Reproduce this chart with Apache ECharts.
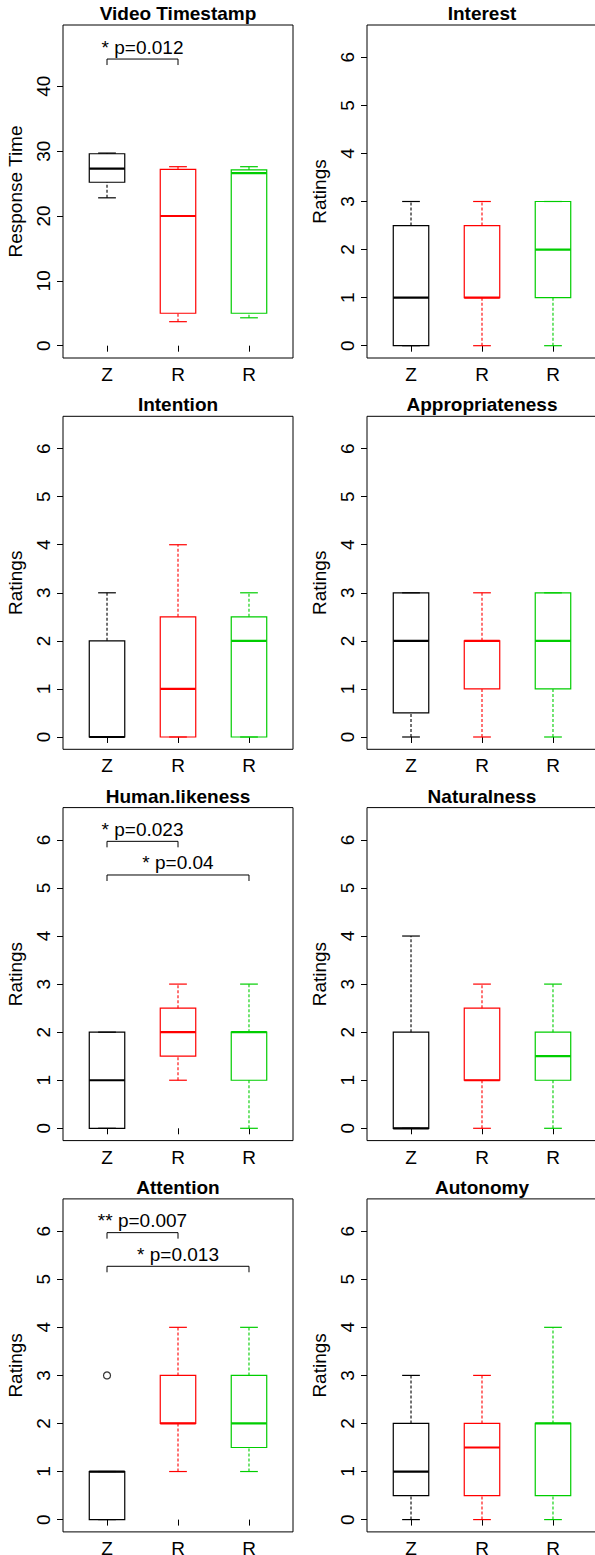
<!DOCTYPE html>
<html>
<head>
<meta charset="utf-8">
<script src="https://cdn.jsdelivr.net/npm/echarts@6/dist/echarts.min.js"></script>
<style>
  html, body { margin: 0; padding: 0; background: #fff; }
  #main { width: 595px; height: 1555px; }
</style>
</head>
<body>
<div id="main"></div>
<script>
// groups on every panel
const categories = ['Z', 'R', 'R']
const groupColors = ['#000000', '#FF0000', '#00CD00']

// five number summaries per group: [min, Q1, median, Q3, max]
const videoTimestamp = [[22.8, 25.2, 27.3, 29.6, 29.7], [3.7, 5.0, 20.0, 27.2, 27.6], [4.3, 5.0, 26.6, 27.1, 27.6]]
const interest = [[0, 0, 1, 2.5, 3], [0, 1, 1, 2.5, 3], [0, 1, 2, 3, 3]]
const intention = [[0, 0, 0, 2, 3], [0, 0, 1, 2.5, 4], [0, 0, 2, 2.5, 3]]
const appropriateness = [[0, 0.5, 2, 3, 3], [0, 1, 2, 2, 3], [0, 1, 2, 3, 3]]
const humanLikeness = [[0, 0, 1, 2, 2], [1, 1.5, 2, 2.5, 3], [0, 1, 2, 2, 3]]
const naturalness = [[0, 0, 0, 2, 4], [0, 1, 1, 2.5, 3], [0, 1, 1.5, 2, 3]]
const attention = [[0, 0, 1, 1, 1], [1, 2, 2, 3, 4], [1, 1.5, 2, 3, 4]]
const autonomy = [[0, 0.5, 1, 2, 3], [0, 0.5, 1.5, 2, 3], [0, 0.5, 2, 2, 4]]

// outliers: [group position, value]
const attentionOutliers = [[1, 3]]

// significance brackets: [from group, to group, height, label]
const videoBrackets = [[1, 2, 44.2, '* p=0.012']]
const humanBrackets = [[1, 2, 5.97, '* p=0.023'], [1, 3, 5.27, '* p=0.04']]
const attentionBrackets = [[1, 2, 5.97, '** p=0.007'], [1, 3, 5.27, '* p=0.013']]

// tick labels
const timeTicks = [0, 10, 20, 30, 40]
const ratingTicks = [0, 1, 2, 3, 4, 5, 6]
const groupTicks = [1, 2, 3]

const panels = [
    { title: 'Video Timestamp', data: videoTimestamp, yName: 'Response Time', ticks: timeTicks, min: -1.9, max: 49.45, brackets: videoBrackets },
    { title: 'Interest', data: interest, yName: 'Ratings', ticks: ratingTicks, min: -0.256, max: 6.672 },
    { title: 'Intention', data: intention, yName: 'Ratings', ticks: ratingTicks, min: -0.256, max: 6.672 },
    { title: 'Appropriateness', data: appropriateness, yName: 'Ratings', ticks: ratingTicks, min: -0.256, max: 6.672 },
    { title: 'Human.likeness', data: humanLikeness, yName: 'Ratings', ticks: ratingTicks, min: -0.256, max: 6.672, brackets: humanBrackets },
    { title: 'Naturalness', data: naturalness, yName: 'Ratings', ticks: ratingTicks, min: -0.256, max: 6.672 },
    { title: 'Attention', data: attention, yName: 'Ratings', ticks: ratingTicks, min: -0.256, max: 6.672, brackets: attentionBrackets, outliers: attentionOutliers },
    { title: 'Autonomy', data: autonomy, yName: 'Ratings', ticks: ratingTicks, min: -0.256, max: 6.672 }
]

const FONT = 'Liberation Sans, Arial, Helvetica, sans-serif'
const FS = 19
const ROW_H = 391.3
const BOX_W = 0.5

let grids = [], xAxes = [], yAxes = [], series = [], graphics = []

function renderBox (params, api) {
    let x = api.value(0)
    let color = groupColors[api.value(6)]
    let half = api.size([BOX_W, 0])[0] / 2
    let cap = half / 2
    let pMin = api.coord([x, api.value(1)])
    let pQ1 = api.coord([x, api.value(2)])
    let pMed = api.coord([x, api.value(3)])
    let pQ3 = api.coord([x, api.value(4)])
    let pMax = api.coord([x, api.value(5)])
    let cx = pMin[0]
    let dashed = { stroke: color, lineWidth: 1.1, lineDash: [3, 2] }
    let solid = { stroke: color, lineWidth: 1.2 }
    return {
        type: 'group',
        children: [
            { type: 'line', shape: { x1: cx, y1: pMin[1], x2: cx, y2: pQ1[1] }, style: dashed },
            { type: 'line', shape: { x1: cx, y1: pQ3[1], x2: cx, y2: pMax[1] }, style: dashed },
            { type: 'line', shape: { x1: cx - cap, y1: pMin[1], x2: cx + cap, y2: pMin[1] }, style: solid },
            { type: 'line', shape: { x1: cx - cap, y1: pMax[1], x2: cx + cap, y2: pMax[1] }, style: solid },
            { type: 'rect', shape: { x: cx - half, y: pQ3[1], width: half * 2, height: pQ1[1] - pQ3[1] }, style: { fill: 'none', stroke: color, lineWidth: 1.2 } },
            { type: 'line', shape: { x1: cx - half, y1: pMed[1], x2: cx + half, y2: pMed[1] }, style: { stroke: color, lineWidth: 2.2 } }
        ]
    }
}

function bracketRenderer (list) {
    return function (params, api) {
        let a = api.coord([api.value(0), api.value(2)])
        let b = api.coord([api.value(1), api.value(2)])
        let drop = 6
        return {
            type: 'group',
            children: [
                { type: 'polyline', shape: { points: [[a[0], a[1] + drop], a, b, [b[0], b[1] + drop]] }, style: { stroke: '#000', lineWidth: 1, fill: 'none' } },
                { type: 'text', x: (a[0] + b[0]) / 2, y: a[1] - 12, style: { text: list[params.dataIndex][3], align: 'center', verticalAlign: 'middle', font: FS + 'px ' + FONT, fill: '#000' } }
            ]
        }
    }
}

panels.forEach((p, i) => {
    let col = i % 2, row = Math.floor(i / 2)
    let left = col === 0 ? 63 : 367
    let top = 25 + ROW_H * row
    grids.push({ left: left, top: top, width: 230, height: 333, show: true, borderColor: '#000', borderWidth: 1, backgroundColor: 'transparent', containLabel: false, outerBoundsMode: 'none' })
    xAxes.push({
        type: 'value', gridIndex: i, min: 0.38, max: 3.62,
        axisLine: { show: false }, splitLine: { show: false },
        axisTick: { show: true, length: 6, customValues: groupTicks, lineStyle: { color: '#000', width: 1 } },
        axisLabel: { customValues: groupTicks, formatter: v => categories[Math.round(v) - 1], margin: 7, fontSize: FS, fontFamily: FONT, color: '#000' }
    })
    yAxes.push({
        type: 'value', gridIndex: i, min: p.min, max: p.max,
        name: p.yName, nameLocation: 'middle', nameGap: 38, nameMoveOverlap: false,
        nameTextStyle: { fontSize: FS, fontFamily: FONT, color: '#000' },
        axisLine: { show: false }, splitLine: { show: false },
        axisTick: { show: true, length: 6, customValues: p.ticks, lineStyle: { color: '#000', width: 1 } },
        axisLabel: { customValues: p.ticks, rotate: 90, margin: 10, fontSize: FS, fontFamily: FONT, color: '#000' }
    })
    series.push({
        type: 'custom', xAxisIndex: i, yAxisIndex: i,
        renderItem: renderBox,
        data: p.data.map((d, g) => [g + 1].concat(d).concat([g])),
        silent: true
    })
    if (p.brackets) {
        series.push({
            type: 'custom', xAxisIndex: i, yAxisIndex: i,
            renderItem: bracketRenderer(p.brackets),
            data: p.brackets.map(b => [b[0], b[1], b[2]]),
            silent: true
        })
    }
    if (p.outliers) {
        series.push({
            type: 'scatter', xAxisIndex: i, yAxisIndex: i,
            symbol: 'circle', symbolSize: 7,
            itemStyle: { color: 'transparent', borderColor: '#000', borderWidth: 1.2 },
            data: p.outliers, silent: true
        })
    }
    graphics.push({
        type: 'text', x: left + 115, y: 13.4 + ROW_H * row,
        style: { text: p.title, align: 'center', verticalAlign: 'middle', font: 'bold ' + FS + 'px ' + FONT, fill: '#000' }
    })
})

let chart = echarts.init(document.getElementById('main'), null, { renderer: 'svg' })
chart.setOption({
    animation: false,
    backgroundColor: '#fff',
    grid: grids,
    xAxis: xAxes,
    yAxis: yAxes,
    series: series,
    graphic: graphics
})
</script>
</body>
</html>
